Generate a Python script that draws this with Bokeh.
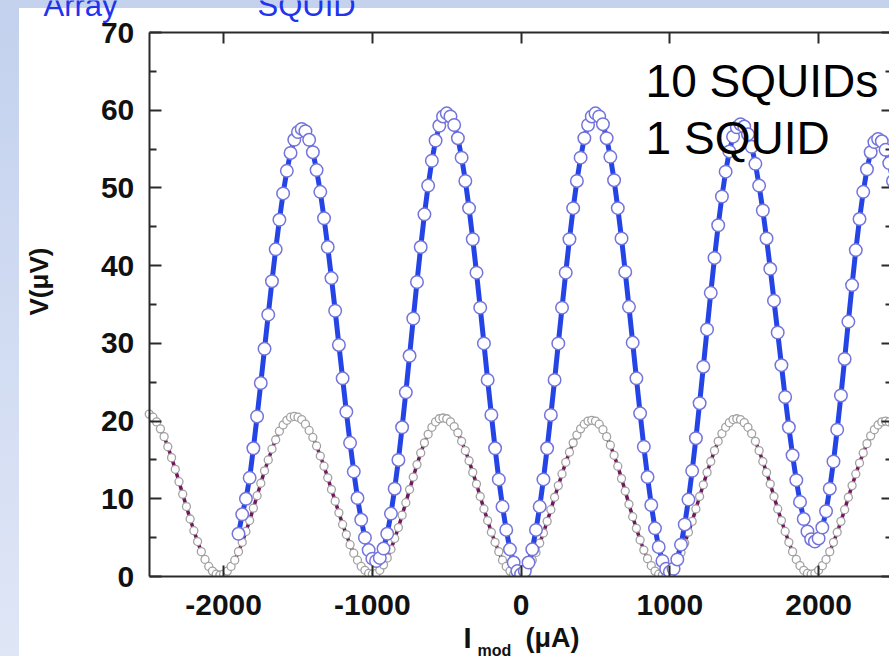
from bokeh.plotting import figure
from bokeh.models import LinearAxis, Label, FixedTicker, Range1d, BoxAnnotation
from bokeh.embed import file_html
from bokeh.resources import INLINE
import math

# ---- data ----
# current sweep I_mod (uA), 25 uA steps
blue_x = list(range(-1900, 2501, 25))
blue_v = [5.5, 8.0, 10.0, 12.7, 16.5, 20.6, 24.9, 29.3, 33.7, 38.0, 42.1, 45.9, 49.3, 52.2, 54.5, 56.2, 57.2, 57.6,
          57.3, 56.2, 54.6, 52.3, 49.5, 46.1, 42.4, 38.4, 34.2, 29.8, 25.5, 21.2, 17.2, 13.5, 10.1, 7.3, 5.0, 3.4, 2.3, 2.0,
          2.4, 3.6, 5.5, 8.1, 11.3, 15.0, 19.2, 23.7, 28.4, 33.2, 37.9, 42.4, 46.6, 50.3, 53.5, 56.1, 58.0, 59.2, 59.6,
          59.2, 58.1, 56.4, 53.9, 50.9, 47.4, 43.4, 39.1, 34.6, 30.0, 25.3, 20.8, 16.5, 12.5, 9.0, 6.0, 3.5, 1.8, 0.7, 0.3,
          0.7, 1.8, 3.5, 6.0, 9.0, 12.5, 16.5, 20.8, 25.3, 30.0, 34.6, 39.1, 43.4, 47.4, 50.9, 53.9, 56.4, 58.1, 59.2, 59.6,
          59.2, 58.2, 56.4, 54.0, 51.0, 47.4, 43.5, 39.2, 34.7, 30.1, 25.5, 21.0, 16.7, 12.8, 9.2, 6.2, 3.8, 2.0, 1.0, 0.6,
          1.0, 2.2, 4.1, 6.7, 9.9, 13.6, 17.8, 22.3, 27.0, 31.8, 36.5, 41.0, 45.2, 48.9, 52.1, 54.7, 56.6, 57.8, 58.2,
          57.9, 56.9, 55.3, 53.1, 50.3, 47.1, 43.5, 39.6, 35.5, 31.4, 27.2, 23.1, 19.2, 15.6, 12.4, 9.6, 7.4, 5.8, 4.8, 4.5,
          4.9, 6.3, 8.4, 11.3, 14.8, 18.9, 23.3, 28.0, 32.8, 37.5, 42.0, 46.0, 49.5, 52.4, 54.6, 55.9, 56.3,
          56.0, 54.9, 53.2, 50.9]

gray_x = list(range(-2500, 2501, 25))
gray_v = [20.9, 20.5, 19.9, 19.0, 18.0, 16.7, 15.3, 13.8, 12.2, 10.6, 9.0, 7.4, 5.9, 4.5, 3.2, 2.2, 1.3, 0.7, 0.3, 0.2,
          0.3, 0.7, 1.3, 2.1, 3.2, 4.4, 5.8, 7.2, 8.8, 10.4, 12.0, 13.6, 15.0, 16.4, 17.6, 18.7, 19.5, 20.1, 20.5, 20.6,
          20.5, 20.2, 19.6, 18.8, 17.9, 16.8, 15.5, 14.2, 12.7, 11.2, 9.7, 8.2, 6.7, 5.4, 4.1, 3.0, 2.1, 1.3, 0.8, 0.4, 0.3,
          0.4, 0.8, 1.5, 2.4, 3.5, 4.9, 6.3, 7.9, 9.5, 11.2, 12.8, 14.4, 15.9, 17.2, 18.3, 19.2, 19.9, 20.3, 20.4,
          20.3, 19.9, 19.3, 18.5, 17.4, 16.2, 14.9, 13.4, 11.9, 10.3, 8.7, 7.2, 5.7, 4.4, 3.2, 2.1, 1.3, 0.7, 0.3, 0.2,
          0.3, 0.7, 1.3, 2.1, 3.1, 4.3, 5.6, 7.1, 8.6, 10.2, 11.7, 13.2, 14.7, 16.0, 17.2, 18.2, 19.0, 19.6, 20.0, 20.1,
          20.0, 19.6, 18.9, 18.0, 16.9, 15.6, 14.2, 12.6, 11.0, 9.3, 7.7, 6.2, 4.7, 3.4, 2.3, 1.4, 0.7, 0.3, 0.2,
          0.3, 0.7, 1.3, 2.1, 3.1, 4.3, 5.7, 7.1, 8.7, 10.3, 11.8, 13.4, 14.8, 16.2, 17.4, 18.4, 19.2, 19.8, 20.2, 20.3,
          20.2, 19.8, 19.2, 18.4, 17.4, 16.2, 14.8, 13.4, 11.9, 10.3, 8.7, 7.2, 5.8, 4.4, 3.2, 2.2, 1.4, 0.8, 0.4, 0.3,
          0.4, 0.8, 1.4, 2.2, 3.2, 4.4, 5.7, 7.1, 8.6, 10.2, 11.7, 13.2, 14.6, 15.9, 17.1, 18.1, 18.9, 19.5, 19.9, 20.0,
          19.9, 19.6]

x_ticks = [-2000, -1000, 0, 1000, 2000]
y_ticks = [0, 10, 20, 30, 40, 50, 60, 70]
y_minor = [5, 15, 25, 35, 45, 55, 65]
series_names = ["10 SQUIDs", "1 SQUID"]
slide_titles = ["Array", "SQUID"]

# axis box of the original chart
X0, X1, Y0, Y1 = -2500, 2500, 0, 70
FONT = "Liberation Sans"
AX = "#2a2a2a"
TXT = "#111111"

p = figure(width=889, height=656, x_range=Range1d(-3500, 2476.6), y_range=Range1d(-10.29, 74.12),
           output_backend="svg", toolbar_location=None, min_border=0)
p.xgrid.visible = False
p.ygrid.visible = False
p.outline_line_color = None
p.background_fill_color = None
p.border_fill_color = None
p.styles = {"background": "linear-gradient(#c4d2ee, #c4d2ee) 0 0 / 100% 8px no-repeat, "
                          "linear-gradient(to bottom, #c3d1ee, #dfe6f6) 0 0 / 19px 100% no-repeat, #ffffff"}


def style_axis(ax):
    ax.axis_line_color = AX
    ax.axis_line_width = 2
    ax.major_tick_line_color = AX
    ax.major_tick_line_width = 2
    ax.minor_tick_line_color = AX
    ax.minor_tick_line_width = 2
    ax.major_tick_out = 0
    ax.minor_tick_out = 0
    ax.major_label_text_font = FONT
    ax.major_label_text_font_style = "bold"
    ax.major_label_text_font_size = "30px"
    ax.major_label_text_color = TXT


# bottom axis
xa = p.xaxis[0]
style_axis(xa)
xa.fixed_location = Y0
xa.bounds = (X0, X1)
xa.ticker = FixedTicker(ticks=x_ticks)
xa.major_tick_in = 11
xa.minor_tick_line_color = None
xa.major_label_overrides = {t: str(t) for t in x_ticks}
xa.major_label_standoff = 18

# left axis
ya = p.yaxis[0]
style_axis(ya)
ya.fixed_location = X0
ya.bounds = (Y0, Y1)
ya.ticker = FixedTicker(ticks=y_ticks, minor_ticks=y_minor)
ya.major_tick_in = 12
ya.minor_tick_in = 7
ya.major_label_standoff = 15

# top axis (ticks only)
ta = LinearAxis(fixed_location=Y1, bounds=(X0, X1), ticker=FixedTicker(ticks=x_ticks))
style_axis(ta)
ta.major_tick_in = 11
ta.minor_tick_line_color = None
ta.major_label_text_font_size = "1px"
ta.major_label_text_alpha = 0
p.add_layout(ta, "above")

# right axis (ticks only; its line lies just outside the picture)
ra = LinearAxis(fixed_location=X1, bounds=(Y0, Y1), ticker=FixedTicker(ticks=y_ticks, minor_ticks=y_minor))
style_axis(ra)
ra.major_tick_in = 11
ra.minor_tick_in = 7
ra.major_label_text_font_size = "1px"
ra.major_label_text_alpha = 0
p.add_layout(ra, "right")

# 1 SQUID
p.line(gray_x, gray_v, line_color="#74155f", line_width=3.5)
p.scatter(gray_x, gray_v, marker="circle", size=8, line_color="#a2a2a2", fill_color="white", line_width=1.3)
# 10 SQUIDs
p.line(blue_x, blue_v, line_color="#2444e6", line_width=5)
p.scatter(blue_x, blue_v, marker="circle", size=12.5, line_color="#7474dc", fill_color="white", line_width=1.5)

# hide marker parts that fall below the x axis (original clips at the axis)
p.add_layout(BoxAnnotation(left=X0, top=Y0, fill_color="white", fill_alpha=1.0, line_color=None, level="glyph"))

# series texts
p.add_layout(Label(x=837, y=63.8, text=series_names[0], text_font=FONT, text_font_size="46px",
                   text_color="black", text_baseline="alphabetic"))
p.add_layout(Label(x=837, y=56.4, text=series_names[1], text_font=FONT, text_font_size="46px",
                   text_color="black", text_baseline="alphabetic"))

# axis titles
p.add_layout(Label(x=-3244, y=37.96, text="V(μV)", angle=math.pi / 2, text_font=FONT, text_font_style="bold",
                   text_font_size="26px", text_color=TXT, text_align="center", text_baseline="middle"))
p.add_layout(Label(x=-387, y=-7.85, text="I", text_font=FONT, text_font_style="bold",
                   text_font_size="29px", text_color=TXT, text_baseline="middle"))
p.add_layout(Label(x=-293, y=-9.55, text="mod", text_font=FONT, text_font_style="bold",
                   text_font_size="16px", text_color=TXT, text_baseline="alphabetic"))
p.add_layout(Label(x=29.6, y=-7.85, text="(μA)", text_font=FONT, text_font_style="bold",
                   text_font_size="27px", text_color=TXT, text_baseline="middle"))

# cut-off slide headings at the very top
p.add_layout(Label(x=-3211, y=73.48, text=slide_titles[0], text_font=FONT, text_font_size="31px",
                   text_color="#2233ee", text_baseline="alphabetic"))
p.add_layout(Label(x=-1772, y=73.48, text=slide_titles[1], text_font=FONT, text_font_size="31px",
                   text_color="#2233ee", text_baseline="alphabetic"))

open("out.html", "w").write(file_html(p, INLINE))
